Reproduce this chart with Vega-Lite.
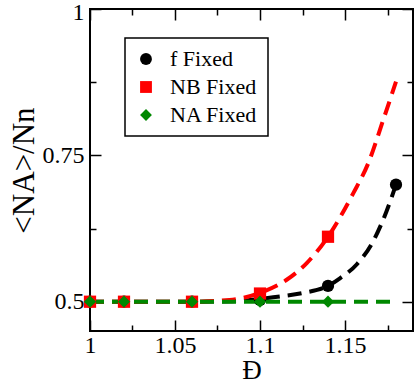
{
  "$schema": "https://vega.github.io/schema/vega-lite/v6.json",
  "width": 323,
  "height": 322,
  "autosize": "none",
  "padding": {"left": 90, "top": 9, "right": 2, "bottom": 53},
  "background": "white",
  "config": {
    "view": {"stroke": "black", "strokeWidth": 2},
    "font": "Liberation Serif, Times New Roman, serif",
    "axis": {
      "domain": false,
      "grid": false,
      "tickColor": "black",
      "tickWidth": 1.5,
      "labelFont": "Liberation Serif, Times New Roman, serif",
      "labelFontSize": 24,
      "labelColor": "black",
      "labelFlush": false,
      "labelOverlap": false,
      "titleFont": "Liberation Serif, Times New Roman, serif",
      "titleFontWeight": "normal",
      "titleColor": "black"
    },
    "legend": {
      "orient": "none",
      "legendX": 35,
      "legendY": 29,
      "strokeColor": "black",
      "strokeWidth": 1.5,
      "fillColor": "white",
      "padding": 10,
      "labelFont": "Liberation Serif, Times New Roman, serif",
      "labelFontSize": 22,
      "labelColor": "black",
      "labelOffset": 13,
      "symbolSize": 140,
      "rowPadding": 6,
      "symbolStrokeWidth": 0
    }
  },
  "data": {
    "values": [
      {"series": "f Fixed", "kind": "fit", "x": 1.0, "y": 0.5},
      {"series": "f Fixed", "kind": "fit", "x": 1.06, "y": 0.5},
      {"series": "f Fixed", "kind": "fit", "x": 1.084, "y": 0.501},
      {"series": "f Fixed", "kind": "fit", "x": 1.1, "y": 0.505},
      {"series": "f Fixed", "kind": "fit", "x": 1.112, "y": 0.509},
      {"series": "f Fixed", "kind": "fit", "x": 1.1255, "y": 0.515},
      {"series": "f Fixed", "kind": "fit", "x": 1.14, "y": 0.527},
      {"series": "f Fixed", "kind": "fit", "x": 1.147, "y": 0.54},
      {"series": "f Fixed", "kind": "fit", "x": 1.157, "y": 0.564},
      {"series": "f Fixed", "kind": "fit", "x": 1.1667, "y": 0.604},
      {"series": "f Fixed", "kind": "fit", "x": 1.1745, "y": 0.655},
      {"series": "f Fixed", "kind": "fit", "x": 1.18, "y": 0.7},
      {"series": "NB Fixed", "kind": "fit", "x": 1.0, "y": 0.5},
      {"series": "NB Fixed", "kind": "fit", "x": 1.06, "y": 0.5},
      {"series": "NB Fixed", "kind": "fit", "x": 1.082, "y": 0.503},
      {"series": "NB Fixed", "kind": "fit", "x": 1.1, "y": 0.515},
      {"series": "NB Fixed", "kind": "fit", "x": 1.1157, "y": 0.5375},
      {"series": "NB Fixed", "kind": "fit", "x": 1.1275, "y": 0.566},
      {"series": "NB Fixed", "kind": "fit", "x": 1.14, "y": 0.611},
      {"series": "NB Fixed", "kind": "fit", "x": 1.1549, "y": 0.6855},
      {"series": "NB Fixed", "kind": "fit", "x": 1.1637, "y": 0.7367},
      {"series": "NB Fixed", "kind": "fit", "x": 1.1725, "y": 0.8106},
      {"series": "NB Fixed", "kind": "fit", "x": 1.18, "y": 0.876},
      {"series": "NA Fixed", "kind": "fit", "x": 1.0, "y": 0.5},
      {"series": "NA Fixed", "kind": "fit", "x": 1.18, "y": 0.5},
      {"series": "f Fixed", "kind": "point", "x": 1.0, "y": 0.5},
      {"series": "f Fixed", "kind": "point", "x": 1.02, "y": 0.5},
      {"series": "f Fixed", "kind": "point", "x": 1.06, "y": 0.5},
      {"series": "f Fixed", "kind": "point", "x": 1.1, "y": 0.503},
      {"series": "f Fixed", "kind": "point", "x": 1.14, "y": 0.527},
      {"series": "f Fixed", "kind": "point", "x": 1.18, "y": 0.7},
      {"series": "NB Fixed", "kind": "point", "x": 1.0, "y": 0.5},
      {"series": "NB Fixed", "kind": "point", "x": 1.02, "y": 0.5},
      {"series": "NB Fixed", "kind": "point", "x": 1.06, "y": 0.5},
      {"series": "NB Fixed", "kind": "point", "x": 1.1, "y": 0.514},
      {"series": "NB Fixed", "kind": "point", "x": 1.14, "y": 0.611},
      {"series": "NA Fixed", "kind": "point", "x": 1.0, "y": 0.5},
      {"series": "NA Fixed", "kind": "point", "x": 1.02, "y": 0.5},
      {"series": "NA Fixed", "kind": "point", "x": 1.06, "y": 0.5},
      {"series": "NA Fixed", "kind": "point", "x": 1.1, "y": 0.5},
      {"series": "NA Fixed", "kind": "point", "x": 1.14, "y": 0.5}
    ]
  },
  "layer": [
    {
      "transform": [{"filter": "datum.kind === 'fit'"}],
      "mark": {"type": "line", "strokeWidth": 4, "strokeDash": [14, 8], "interpolate": "monotone", "clip": true},
      "encoding": {
        "x": {"field": "x", "type": "quantitative", "scale": {"domain": [1, 1.19], "nice": false, "zero": false},
          "axis": {"orient": "bottom", "values": [1, 1.05, 1.1, 1.15], "format": ".3~g", "ticks": false, "labelPadding": 2, "title": "Đ", "titleFontSize": 27, "titlePadding": 0}},
        "y": {"field": "y", "type": "quantitative", "scale": {"domain": [0.45, 1], "nice": false, "zero": false},
          "axis": {"orient": "left", "values": [0.5, 0.75, 1], "format": ".3~g", "ticks": false, "labelPadding": 6,
            "labelOffset": {"condition": {"test": "datum.value === 1", "value": 3}, "value": 0},
            "title": "<NA>/Nn", "titleFontSize": 31, "titlePadding": 2}},
        "stroke": {"field": "series", "type": "nominal", "scale": {"domain": ["f Fixed", "NB Fixed", "NA Fixed"], "range": ["#000000", "#ff0000", "#008800"]}, "legend": {"title": null}}
      }
    },
    {
      "transform": [{"filter": "datum.kind === 'point'"}],
      "mark": {"type": "point", "filled": true, "opacity": 1},
      "encoding": {
        "x": {"field": "x", "type": "quantitative", "axis": {"orient": "bottom", "values": [1, 1.05, 1.1, 1.15], "labels": false, "tickSize": -11, "title": null}},
        "y": {"field": "y", "type": "quantitative", "axis": {"orient": "left", "values": [0.5, 0.75, 1], "labels": false, "tickSize": -11, "title": null}},
        "fill": {"field": "series", "type": "nominal", "scale": {"domain": ["f Fixed", "NB Fixed", "NA Fixed"], "range": ["#000000", "#ff0000", "#008800"]}, "legend": {"title": null}},
        "shape": {"field": "series", "type": "nominal", "scale": {"domain": ["f Fixed", "NB Fixed", "NA Fixed"], "range": ["circle", "square", "diamond"]}, "legend": {"title": null}},
        "size": {"value": 150}
      }
    },
    {
      "transform": [{"filter": "datum.kind === 'point'"}],
      "mark": {"type": "point", "opacity": 0},
      "encoding": {
        "x": {"field": "x", "type": "quantitative", "axis": {"orient": "top", "values": [1, 1.05, 1.1, 1.15], "labels": false, "tickSize": -11, "title": null}},
        "y": {"field": "y", "type": "quantitative", "axis": {"orient": "right", "values": [0.5, 0.75, 1], "labels": false, "tickSize": -11, "title": null}}
      }
    },
    {
      "transform": [{"filter": "datum.kind === 'point'"}],
      "mark": {"type": "point", "opacity": 0},
      "encoding": {
        "x": {"field": "x", "type": "quantitative", "axis": {"orient": "bottom", "values": [1.025, 1.075, 1.125, 1.175], "labels": false, "tickSize": -6, "title": null}},
        "y": {"field": "y", "type": "quantitative", "axis": {"orient": "left", "values": [0.625, 0.875], "labels": false, "tickSize": -6, "title": null}}
      }
    },
    {
      "transform": [{"filter": "datum.kind === 'point'"}],
      "mark": {"type": "point", "opacity": 0},
      "encoding": {
        "x": {"field": "x", "type": "quantitative", "axis": {"orient": "top", "values": [1.025, 1.075, 1.125, 1.175], "labels": false, "tickSize": -6, "title": null}},
        "y": {"field": "y", "type": "quantitative", "axis": {"orient": "right", "values": [0.625, 0.875], "labels": false, "tickSize": -6, "title": null}}
      }
    }
  ],
  "resolve": {"axis": {"x": "independent", "y": "independent"}}
}
